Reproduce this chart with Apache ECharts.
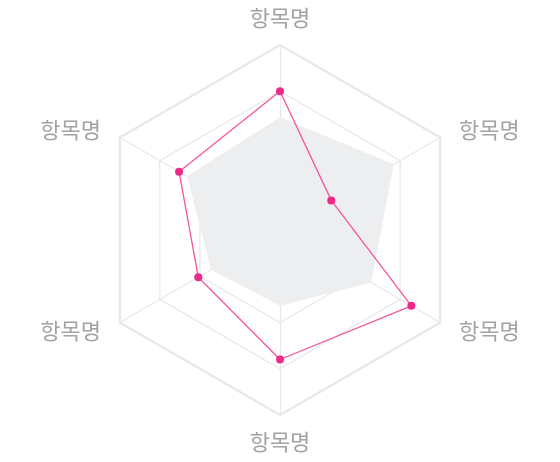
<!DOCTYPE html>
<html><head><meta charset="utf-8">
<script src="https://cdn.jsdelivr.net/npm/echarts@6/dist/echarts.min.js"></script>
<style>html,body{margin:0;padding:0;background:#fff}#c{width:560px;height:462px}</style>
</head><body><div id="c"></div>
<script>
// Indicators in ECharts order: top, upper-left, lower-left, bottom, lower-right, upper-right
const indicatorNames = ['항목명','항목명','항목명','항목명','항목명','항목명'];
const maxValue = 100;
const areaValues = [61, 58, 43, 41, 57, 71];
const lineValues = [75, 63, 51, 70, 82, 32];

const indicators = indicatorNames.map(n => ({ name: n, max: maxValue }));
const chart = echarts.init(document.getElementById('c'));
chart.setOption({
  animation: false,
  radar: [{
    center: [280, 230],
    radius: 185,
    startAngle: 90,
    splitNumber: 4,
    shape: 'polygon',
    indicator: indicators,
    axisName: { color: '#a3a3a3', fontSize: 22, fontFamily: '"Noto Sans CJK KR", sans-serif', padding: [0, 5] },
    nameGap: 16,
    splitLine: { lineStyle: { color: '#e8e8e8', width: 1.3 } },
    splitArea: { show: false },
    axisLine: { lineStyle: { color: '#e8e8e8', width: 1.3 } }
  }, {
    center: [280, 230],
    radius: 185,
    startAngle: 90,
    splitNumber: 1,
    shape: 'polygon',
    indicator: indicators,
    axisName: { show: false },
    splitLine: { lineStyle: { color: '#e8e8e8', width: 2.2 } },
    splitArea: { show: false },
    axisLine: { show: false }
  }],
  series: [{
    type: 'radar',
    radarIndex: 0,
    data: [
      { value: areaValues, symbol: 'none', lineStyle: { width: 0, opacity: 0 }, areaStyle: { color: '#edeef0', opacity: 1 } },
      { value: lineValues, symbol: 'circle', symbolSize: 8,
        itemStyle: { color: '#ec2a8b' }, lineStyle: { color: '#f5559f', width: 1.3 } }
    ]
  }]
});
</script></body></html>
